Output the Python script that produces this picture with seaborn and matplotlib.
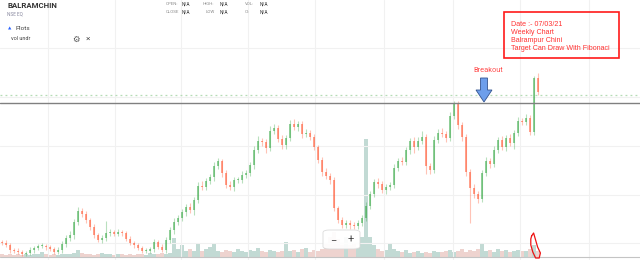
import numpy as np
import pandas as pd
import matplotlib
matplotlib.use("Agg")
import matplotlib.pyplot as plt
from matplotlib.patches import Rectangle, FancyArrow, FancyBboxPatch
import seaborn as sns

# ---------------- data (weekly candles, arbitrary price units) ----------------
first_open = 18
close = [17, 15, 10, 9, 8, 6, 7, 10, 12, 14,
         14, 13, 11, 8, 10, 16, 22, 25, 38, 49,
         46, 40, 33, 25, 20, 22, 27, 28, 26, 28,
         27, 21, 17, 15, 12, 9, 9, 11, 18, 13,
         10, 20, 30, 38, 42, 48, 53, 50, 60, 74,
         73, 79, 83, 94, 99, 87, 75, 73, 80, 80,
         85, 87, 95, 110, 119, 118, 112, 129, 132, 121,
         115, 122, 136, 133, 136, 126, 127, 123, 113, 100,
         88, 84, 80, 52, 40, 35, 37, 35, 34, 37,
         42, 54, 66, 78, 76, 70, 73, 75, 92, 99,
         98, 110, 119, 113, 119, 123, 94, 90, 120, 127,
         126, 122, 144, 156, 135, 123, 88, 72, 66, 61,
         87, 99, 96, 110, 120, 113, 122, 117, 127, 139,
         138, 142, 128, 182, 168]
wick_up = [2, 3, 2, 2, 3, 2, 2, 3, 2, 2,
           3, 2, 2, 2, 3, 3, 3, 4, 3, 4,
           3, 3, 2, 3, 2, 3, 12, 3, 2, 3,
           2, 2, 3, 2, 2, 2, 3, 2, 3, 2,
           3, 3, 3, 4, 3, 3, 3, 4, 3, 4,
           5, 3, 3, 4, 3, 2, 3, 4, 3, 3,
           4, 3, 3, 4, 5, 3, 3, 5, 4, 3,
           4, 3, 4, 5, 3, 3, 4, 3, 3, 2,
           3, 4, 3, 3, 2, 3, 3, 3, 3, 3,
           3, 4, 3, 3, 4, 3, 3, 3, 4, 3,
           4, 3, 3, 4, 4, 6, 3, 3, 4, 4,
           5, 3, 4, 3, 3, 3, 3, 3, 4, 3,
           3, 4, 3, 4, 3, 4, 3, 4, 3, 4,
           3, 4, 3, 2, 5]
wick_dn = [2, 2, 3, 2, 2, 2, 2, 2, 3, 2,
           2, 3, 2, 2, 2, 3, 3, 3, 4, 3,
           3, 3, 3, 3, 2, 3, 3, 3, 2, 2,
           3, 2, 2, 3, 2, 2, 2, 2, 3, 2,
           2, 3, 3, 4, 3, 3, 4, 3, 5, 3,
           3, 3, 3, 4, 3, 4, 3, 3, 4, 3,
           3, 3, 3, 4, 3, 4, 5, 3, 3, 3,
           4, 4, 3, 3, 4, 4, 3, 3, 3, 3,
           4, 3, 4, 3, 3, 3, 3, 4, 3, 3,
           3, 3, 3, 3, 4, 3, 4, 3, 3, 3,
           3, 3, 4, 6, 3, 3, 8, 4, 3, 3,
           3, 4, 3, 3, 4, 4, 4, 35, 4, 4,
           3, 3, 4, 3, 3, 3, 4, 3, 6, 3,
           3, 3, 3, 3, 3]
volume = [3, 2, 3, 2, 3, 2, 3, 2, 3, 3,
          5, 3, 2, 3, 2, 3, 3, 3, 4, 7,
          4, 3, 3, 2, 3, 4, 3, 3, 2, 3,
          3, 2, 3, 2, 3, 3, 2, 4, 3, 3,
          4, 3, 4, 19, 8, 12, 6, 8, 6, 14,
          6, 8, 10, 14, 6, 5, 7, 6, 5, 8,
          6, 5, 7, 6, 9, 6, 5, 7, 6, 5,
          6, 15, 6, 7, 5, 8, 9, 5, 7, 6,
          8, 14, 20, 25, 18, 12, 20, 12, 14, 10,
          20, 118, 20, 12, 8, 6, 7, 14, 8, 6,
          5, 7, 4, 5, 6, 4, 5, 4, 6, 5,
          5, 6, 7, 5, 6, 8, 5, 7, 6, 8,
          14, 6, 7, 5, 8, 6, 7, 5, 6, 7,
          6, 6, 8, 12, 6]

resistance = 157      # horizontal breakout line
dotted_level = 165    # dotted level above it
time_ticks = [11.5, 28.25, 44.75, 61.5, 78.25, 95.5, 112.75, 129.5, 146.75]
price_ticks = [17, 65, 114, 163, 212]

note_lines = ["Date :- 07/03/21", "Weekly Chart", "Balrampur Chini",
              "Target Can Draw With Fibonaci"]

# ---------------- frame ----------------
n = len(close)
t = np.arange(n)
opens = np.array([first_open] + close[:-1], dtype=float)
closes = np.array(close, dtype=float)
up = closes >= opens
highs = np.maximum(opens, closes) + np.array(wick_up)
lows = np.minimum(opens, closes) - np.array(wick_dn)
df = pd.DataFrame({"t": t, "open": opens, "close": closes, "vol": volume,
                   "dir": np.where(up, "up", "down")})

sns.set_theme(style="white")
plt.rcParams["font.family"] = ["Roboto", "DejaVu Sans"]

fig = plt.figure(figsize=(6.4, 2.6), dpi=100)
ax = fig.add_axes([0, 0, 1, 1])
ax.set_xlim(-0.5, 159.5)
ax.set_ylim(0, 260)

# grid
ax.set_xticks(time_ticks)
ax.set_yticks(price_ticks)
ax.grid(True, color="#f1f1f1", lw=0.8)
ax.tick_params(length=0, labelbottom=False, labelleft=False)
for s in ax.spines.values():
    s.set_visible(False)

# volume on twin axis (baseline at the bottom axis line)
ax2 = ax.twinx()
ax2.set_ylim(-3, 257)
sns.barplot(data=df, x="t", y="vol", hue="dir", native_scale=True, dodge=False,
            palette={"up": "#a9d3c8", "down": "#f0c0b8"}, width=0.8,
            alpha=0.75, legend=False, ax=ax2, linewidth=0, zorder=1)
ax2.set_xlim(-0.5, 159.5)
ax2.axis("off")

# candles
gcol, rcol = "#37a845", "#ff5530"
cols = np.where(up, gcol, rcol)
ax.vlines(t, lows, highs, colors=cols, lw=0.8, alpha=0.35, zorder=3)
body = np.maximum(np.abs(closes - opens), 0.8)
ax.bar(t, body, bottom=np.minimum(opens, closes), width=0.65, color=cols,
       alpha=0.55, lw=0, zorder=4)

ax.set_zorder(ax2.get_zorder() + 1)
ax.patch.set_visible(False)

# levels
ax.axhline(resistance, color="#808080", lw=1.0, zorder=5)
ax.axhline(dotted_level, color="#b5dcb5", lw=0.9, ls=(0, (1.5, 2.5)), zorder=5)
ax.axhline(3, color="#c4c4c4", lw=0.8, zorder=5)

# breakout arrow + label
ax.add_patch(FancyArrow(120.5, 182, 0, -24, width=1.75, head_width=4.0,
                        head_length=12, length_includes_head=True,
                        fc="#6d9eeb", ec="#34548f", lw=0.6, zorder=6))
ax.text(121.5, 189, "Breakout", color="#ff4d4d", fontsize=5.3,
        ha="center", va="center", zorder=6)

# red note box
ax.add_patch(Rectangle((0.7875, 0.777), 0.18, 0.177, transform=ax.transAxes,
                       fill=False, ec="#ff1a1a", lw=1.2, zorder=7))
for k, line in enumerate(note_lines):
    ax.text(511 / 640, 1 - (24 + 8.2 * k) / 260, line, transform=ax.transAxes,
            color="#ff3333", fontsize=5.1, ha="left", va="center",
            family=["Liberation Sans", "DejaVu Sans"], zorder=7)

# red freehand circle around last volume bar
last = n - 2
cx = [-0.6, -0.1, 0.4, 0.9, 1.6, 1.3, 0.4, -0.3, -0.8, -0.8, -0.6]
cy = [24, 27, 20, 13, 7, 2, 2, 8, 15, 21, 24]
ax.plot([last + d for d in cx], cy, color="#ee1111", lw=0.9, zorder=8)

# zoom control
ax.add_patch(FancyBboxPatch((323 / 640, 11 / 260), 37 / 640, 19 / 260,
                            boxstyle="round,pad=0.0,rounding_size=0.01",
                            transform=ax.transAxes, fc="#ffffff", ec="#d8d8d8",
                            lw=0.6, alpha=0.92, zorder=9))
ax.text(333 / 640, 20 / 260, "\u2212", transform=ax.transAxes, fontsize=8,
        color="#444444", ha="center", va="center", zorder=10)
ax.text(351 / 640, 20 / 260, "+", transform=ax.transAxes, fontsize=8,
        color="#444444", ha="center", va="center", zorder=10)

# header texts
def px(x, y):
    return x / 640, 1 - y / 260

ax.text(*px(7, 6), "BALRAMCHIN", transform=ax.transAxes, fontsize=5.6,
        fontweight="bold", color="#333333", ha="left", va="center")
ax.text(*px(7, 14), "NSE EQ", transform=ax.transAxes, fontsize=3.4,
        color="#8a8aa0", ha="left", va="center")
ax.text(*px(8, 28.5), "\u25b2", transform=ax.transAxes, fontsize=3.2,
        color="#2962ff", ha="left", va="center", family="DejaVu Sans")
ax.text(*px(15, 29), "Plots", transform=ax.transAxes, fontsize=4.6,
        color="#444444", ha="left", va="center")
ax.text(*px(11, 39), "vol undr", transform=ax.transAxes, fontsize=4.0,
        color="#444444", ha="left", va="center")
ax.text(*px(76, 39), "\u2699", transform=ax.transAxes, fontsize=6,
        color="#555555", ha="center", va="center", family="DejaVu Sans")
ax.text(*px(88, 39), "\u00d7", transform=ax.transAxes, fontsize=6,
        color="#555555", ha="center", va="center")

hdr = [("OPEN:", 166, 4), ("CLOSE", 166, 12), ("HIGH:", 203, 4),
       ("LOW", 206, 12), ("VOL:", 245, 4), ("OI:", 245, 12)]
vals = [(182, 4), (182, 12), (220, 4), (220, 12), (260, 4), (260, 12)]
for (lab, x0, y0), (x1, y1) in zip(hdr, vals):
    ax.text(*px(x0, y0), lab, transform=ax.transAxes, fontsize=3.2,
            color="#8a8a8a", ha="left", va="center")
    ax.text(*px(x1, y1), "N/A", transform=ax.transAxes, fontsize=3.4,
            color="#333333", ha="left", va="center")

fig.savefig("out.png", dpi=100, facecolor="white")
